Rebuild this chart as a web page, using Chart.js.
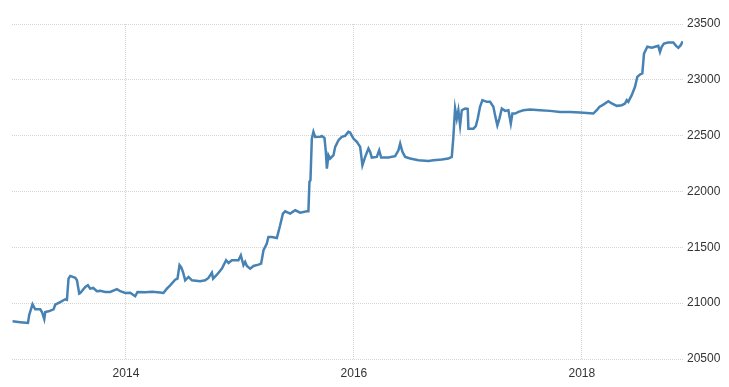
<!DOCTYPE html>
<html>
<head>
<meta charset="utf-8">
<script src="https://cdn.jsdelivr.net/npm/chart.js@4"></script>
<style>
  html, body { margin: 0; padding: 0; background: #fff; }
  #wrap { width: 729px; height: 387px; }
</style>
</head>
<body>
<div id="wrap"><canvas id="myChart" width="729" height="387"></canvas></div>
<script>
// dates as decimal years
const years = [
  2013.005, 2013.072, 2013.140, 2013.151, 2013.180, 2013.204, 2013.248, 2013.263, 2013.283, 2013.292,
  2013.321, 2013.365, 2013.379, 2013.423, 2013.467, 2013.482, 2013.496, 2013.511, 2013.555, 2013.570,
  2013.590, 2013.599, 2013.643, 2013.666, 2013.686, 2013.713, 2013.745, 2013.774, 2013.818, 2013.862,
  2013.921, 2013.950, 2013.994, 2014.037, 2014.081, 2014.101, 2014.169, 2014.230, 2014.300, 2014.329,
  2014.359, 2014.388, 2014.432, 2014.452, 2014.470, 2014.485, 2014.500, 2014.520, 2014.549, 2014.579,
  2014.651, 2014.695, 2014.724, 2014.754, 2014.765, 2014.798, 2014.842, 2014.879, 2014.900, 2014.929,
  2014.987, 2015.008, 2015.031, 2015.046, 2015.061, 2015.090, 2015.119, 2015.163, 2015.186, 2015.207,
  2015.236, 2015.250, 2015.280, 2015.324, 2015.353, 2015.377, 2015.397, 2015.441, 2015.485, 2015.529,
  2015.587, 2015.601, 2015.610, 2015.619, 2015.631, 2015.645, 2015.660, 2015.704, 2015.719, 2015.742,
  2015.754, 2015.763, 2015.777, 2015.792, 2015.821, 2015.836, 2015.865, 2015.894, 2015.923, 2015.952,
  2015.967, 2015.996, 2016.026, 2016.055, 2016.075, 2016.099, 2016.128, 2016.143, 2016.157, 2016.201,
  2016.222, 2016.239, 2016.303, 2016.362, 2016.391, 2016.406, 2016.426, 2016.450, 2016.494, 2016.566,
  2016.654, 2016.698, 2016.772, 2016.829, 2016.859, 2016.873, 2016.888, 2016.903, 2016.917, 2016.932,
  2016.947, 2016.976, 2016.999, 2017.005, 2017.049, 2017.070, 2017.087, 2017.107, 2017.128, 2017.166,
  2017.195, 2017.224, 2017.239, 2017.259, 2017.277, 2017.298, 2017.327, 2017.356, 2017.377, 2017.391,
  2017.415, 2017.444, 2017.487, 2017.546, 2017.634, 2017.721, 2017.809, 2017.897, 2017.985, 2018.101,
  2018.131, 2018.154, 2018.189, 2018.233, 2018.263, 2018.307, 2018.351, 2018.379, 2018.394, 2018.408,
  2018.438, 2018.467, 2018.487, 2018.511, 2018.531, 2018.546, 2018.575, 2018.614, 2018.643, 2018.671,
  2018.686, 2018.701, 2018.721, 2018.757, 2018.803, 2018.827, 2018.847, 2018.868, 2018.885
]
const rates = [
  20838, 20830, 20823, 20894, 20990, 20945, 20945, 20921, 20856, 20920,
  20927, 20945, 20986, 21010, 21035, 21030, 21220, 21244, 21228, 21205,
  21085, 21090, 21145, 21160, 21130, 21136, 21107, 21110, 21100, 21100,
  21125, 21107, 21091, 21094, 21062, 21100, 21098, 21102, 21096, 21091,
  21130, 21160, 21210, 21220, 21340, 21320, 21280, 21205, 21235, 21205,
  21196, 21205, 21226, 21273, 21220, 21255, 21309, 21384, 21360, 21384,
  21384, 21429, 21340, 21369, 21333, 21309, 21333, 21345, 21354, 21474,
  21533, 21593, 21593, 21584, 21698, 21802, 21823, 21802, 21832, 21811,
  21823, 21823, 22086, 22101, 22474, 22534, 22489, 22490, 22498, 22480,
  22355, 22205, 22325, 22295, 22325, 22400, 22460, 22489, 22498, 22534,
  22528, 22474, 22444, 22400, 22235, 22310, 22385, 22355, 22304, 22310,
  22369, 22304, 22304, 22316, 22369, 22429, 22355, 22310, 22295, 22280,
  22274, 22280, 22286, 22295, 22310, 22489, 22743, 22653, 22728, 22593,
  22728, 22743, 22740, 22563, 22563, 22585, 22653, 22758, 22818, 22803,
  22803, 22758, 22683, 22593, 22653, 22743, 22722, 22728, 22608, 22698,
  22698, 22713, 22728, 22734, 22728, 22722, 22713, 22713, 22707, 22698,
  22728, 22758, 22778, 22808, 22788, 22767, 22773, 22788, 22818, 22803,
  22863, 22938, 23027, 23048, 23057, 23236, 23296, 23287, 23296, 23304,
  23250, 23296, 23325, 23334, 23334, 23304, 23287, 23310, 23345
]
const xTicks = [2014, 2016, 2018]
const yMin = 20500
const yMax = 23500
const yStep = 500

const points = years.map((yr, i) => ({x: yr, y: rates[i]}))

const gridColor = '#d4d4d4'
const tickFont = {family: 'Liberation Sans, Arial, sans-serif', size: 12}

new Chart('myChart', {
  type: 'line',
  data: {
    datasets: [{
      data: points,
      borderColor: '#4682b4',
      borderWidth: 2.5,
      pointRadius: 0,
      tension: 0,
      fill: false
    }]
  },
  options: {
    responsive: false,
    animation: false,
    layout: {padding: {left: 12, top: 24, right: 0, bottom: 0}},
    plugins: {legend: {display: false}, tooltip: {enabled: false}},
    scales: {
      x: {
        type: 'linear',
        min: 2013.0,
        max: 2018.888,
        afterBuildTicks: (scale) => { scale.ticks = xTicks.map(v => ({value: v})) },
        afterFit: (scale) => { scale.height = 28 },
        grid: {color: gridColor, drawTicks: false, lineWidth: 1},
        border: {display: false, dash: [1, 1]},
        ticks: {
          color: '#333',
          font: tickFont,
          padding: 7,
          maxRotation: 0,
          callback: (v) => String(v)
        }
      },
      y: {
        position: 'right',
        min: yMin,
        max: yMax,
        afterFit: (scale) => { scale.width = 46 },
        grid: {color: gridColor, drawTicks: false, lineWidth: 1},
        border: {display: false, dash: [1, 1]},
        ticks: {
          stepSize: yStep,
          color: '#333',
          font: tickFont,
          padding: 4,
          callback: (v) => String(v)
        }
      }
    }
  }
})
</script>
</body>
</html>
